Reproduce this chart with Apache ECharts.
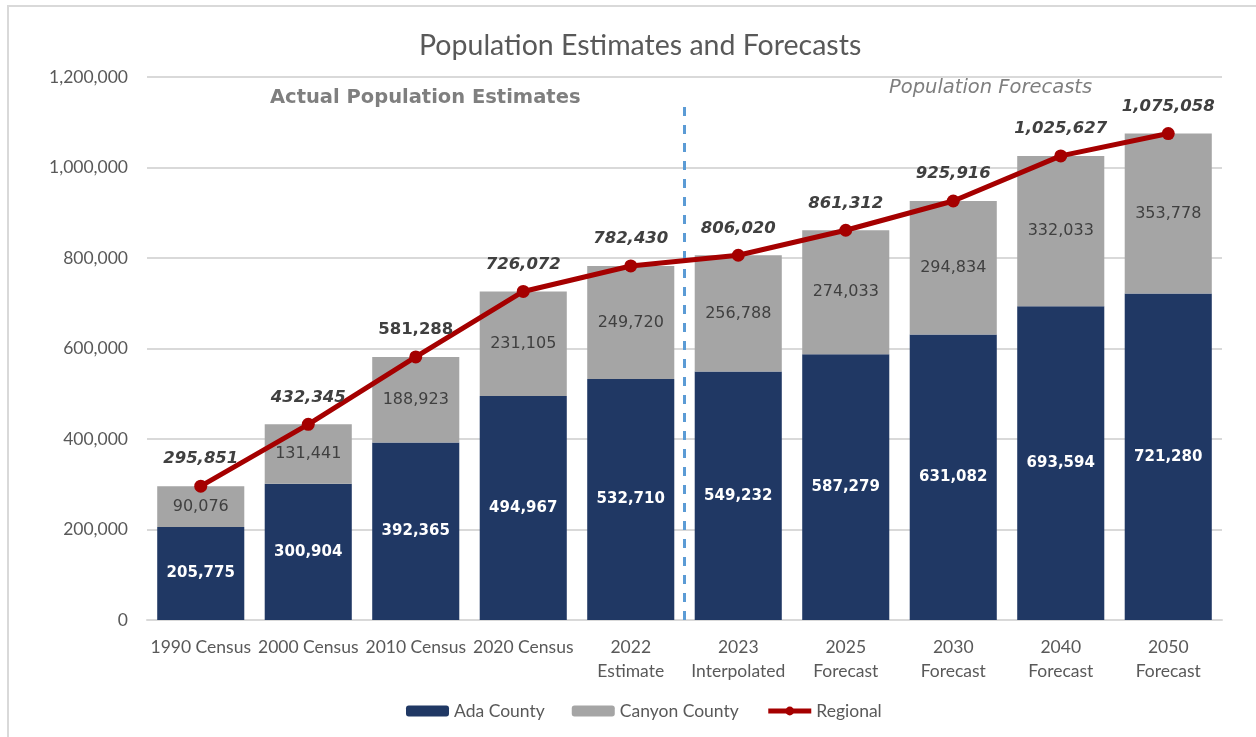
<!DOCTYPE html>
<html>
<head>
<meta charset="utf-8">
<script src="https://cdn.jsdelivr.net/npm/echarts@6/dist/echarts.min.js"></script>
<style>
html,body{margin:0;padding:0;background:#fff;}
#chart{width:1256px;height:737px;}
</style>
</head>
<body>
<div id="chart"></div>
<script>
const categories = ['1990 Census','2000 Census','2010 Census','2020 Census','2022\nEstimate','2023\nInterpolated','2025\nForecast','2030\nForecast','2040\nForecast','2050\nForecast'];
const adaCounty = [205775,300904,392365,494967,532710,549232,587279,631082,693594,721280];
const canyonCounty = [90076,131441,188923,231105,249720,256788,274033,294834,332033,353778];
const regional = [295851,432345,581288,726072,782430,806020,861312,925916,1025627,1075058];
const yTicks = [0,200000,400000,600000,800000,1000000,1200000];
const dividerPosition = 5;      // boundary between estimates and forecasts (in category units)
const dividerTop = 1140000;

const FONT = 'Lato, "Noto Sans", sans-serif';
const WIDE = '"DejaVu Sans", Verdana, sans-serif';
const fmt = v => v.toLocaleString('en-US');

const chart = echarts.init(document.getElementById('chart'));

const regionalData = regional.map((v, i) => i === 2
  ? { value: v, label: { fontStyle: 'normal' } }
  : v);

chart.setOption({
  animation: false,
  backgroundColor: '#fff',
  textStyle: { fontFamily: FONT },
  title: {
    text: 'Population Estimates and Forecasts',
    left: 414, top: 26,
    textStyle: { fontFamily: FONT, fontSize: 28.5, fontWeight: 'normal', color: '#595959' }
  },
  grid: { left: 147, right: 34, top: 77, bottom: 117, containLabel: false },
  legend: {
    data: [
      { name: 'Ada County' },
      { name: 'Canyon County' },
      { name: 'Regional', lineStyle: { width: 5 } }
    ],
    bottom: 12, left: 401,
    itemWidth: 43, itemHeight: 11, itemGap: 27,
    textStyle: { fontFamily: FONT, fontSize: 17.5, color: '#595959' }
  },
  xAxis: [{
    type: 'category',
    data: categories,
    axisLine: { lineStyle: { color: '#d9d9d9', width: 2 } },
    axisTick: { show: false },
    axisLabel: { fontFamily: FONT, fontSize: 17.5, color: '#595959', margin: 15, lineHeight: 24, interval: 0 }
  }, {
    type: 'value', min: 0, max: 10, show: false
  }],
  yAxis: {
    type: 'value', min: yTicks[0], max: yTicks[yTicks.length - 1], interval: 200000,
    axisLine: { show: false }, axisTick: { show: false },
    splitLine: { lineStyle: { color: '#d9d9d9', width: 2 } },
    axisLabel: { fontFamily: FONT, fontSize: 17.5, color: '#595959', margin: 19, formatter: v => fmt(v) }
  },
  series: [
    {
      name: 'Ada County', type: 'bar', stack: 'pop', data: adaCounty,
      barCategoryGap: '19%',
      itemStyle: { color: '#203864' },
      label: { show: true, position: 'inside', formatter: p => fmt(p.value),
        fontFamily: WIDE, fontSize: 15, fontWeight: 'bold', color: '#ffffff' }
    },
    {
      name: 'Canyon County', type: 'bar', stack: 'pop', data: canyonCounty,
      itemStyle: { color: '#a5a5a5' },
      label: { show: true, position: 'inside', formatter: p => fmt(p.value),
        fontFamily: WIDE, fontSize: 16, color: '#404040' }
    },
    {
      name: 'divider', type: 'line', xAxisIndex: 1, yAxisIndex: 0,
      data: [[dividerPosition, 0], [dividerPosition, dividerTop]],
      symbol: 'none', silent: true, z: 1,
      lineStyle: { color: '#5b9bd5', width: 3, type: [9, 9] }
    },
    {
      name: 'Regional', type: 'line', data: regionalData,
      symbol: 'circle', symbolSize: 13, z: 5,
      itemStyle: { color: '#a50000' },
      lineStyle: { color: '#a50000', width: 5 },
      label: { show: true, position: 'top', distance: 12, formatter: p => fmt(p.value),
        fontFamily: WIDE, fontSize: 16.5, fontWeight: 'bold', fontStyle: 'italic', color: '#404040' }
    }
  ],
  graphic: [
    { type: 'rect', shape: { x: 8, y: 6, width: 1300, height: 800 }, silent: true, z: -10,
      style: { fill: 'none', stroke: '#d9d9d9', lineWidth: 2 } },
    { type: 'text', left: 270, top: 88, silent: true,
      style: { text: 'Actual Population Estimates', font: 'bold 19.5px ' + WIDE, fill: '#7f7f7f' } },
    { type: 'text', left: 889, top: 78, silent: true,
      style: { text: 'Population Forecasts', font: 'italic 19.5px ' + WIDE, fill: '#7f7f7f' } }
  ]
});
</script>
</body>
</html>
